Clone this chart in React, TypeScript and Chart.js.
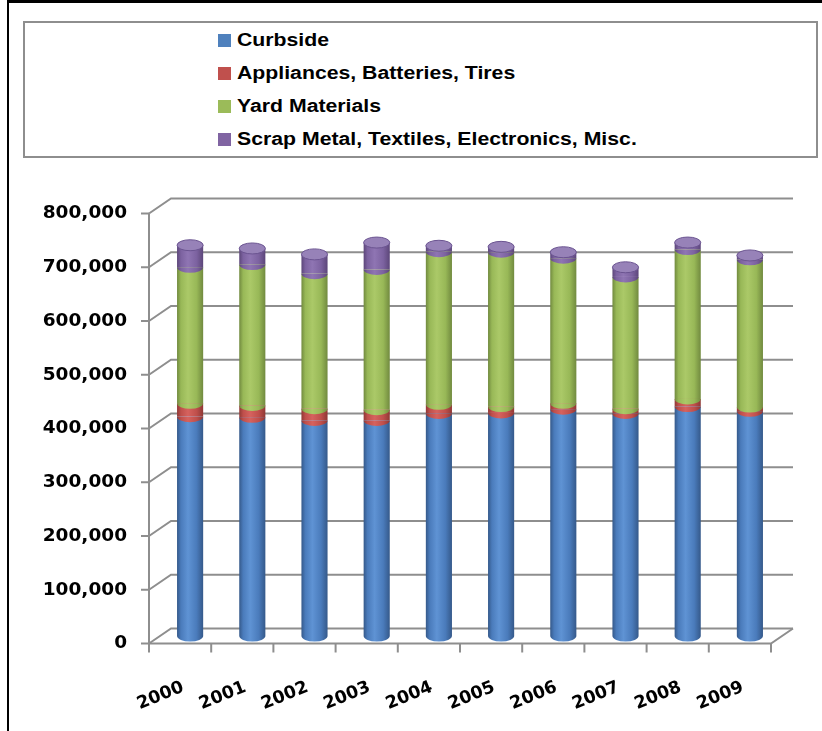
import React, { useEffect, useRef } from "react";
import { Chart, registerables } from "chart.js";

Chart.register(...registerables);

const years = ["2000", "2001", "2002", "2003", "2004", "2005", "2006", "2007", "2008", "2009"];
const curbside = [408000, 407000, 401000, 401000, 414000, 415000, 422000, 414000, 427000, 418000];
const appliances = [25000, 22000, 22000, 20000, 17000, 12000, 11000, 9000, 14000, 8000];
const yard = [253000, 262000, 251000, 261000, 284000, 287000, 270000, 245000, 278000, 274000];
const scrap = [41000, 30000, 36000, 50000, 11000, 10000, 11000, 18000, 13000, 8000];
const seriesNames = [
  "Curbside",
  "Appliances, Batteries, Tires",
  "Yard Materials",
  "Scrap Metal, Textiles, Electronics, Misc.",
];
const yTicks = [0, 100000, 200000, 300000, 400000, 500000, 600000, 700000, 800000];

// [edge, highlight, base]
const palettes: string[][] = [
  ["#35598a", "#5f93d4", "#4a7bbb"],
  ["#8f3835", "#d6625e", "#bf4f4b"],
  ["#718a3f", "#abc968", "#98b857"],
  ["#5c4679", "#8f75b3", "#7c62a0"],
];
const legendColors = ["#4f81bd", "#c0504d", "#9bbb59", "#8064a2"];
const capFill = "#9782b8";
const capEdge = "#6a5390";

const BAR_FRAC = 0.42;
const RY = 5.5;
const DXF = -10, DYF = 7.5, DXB = 12, DYB = -7.5;
const GRID = "#8e8e8e";

const makeGrad = (cols: string[]) => (ctx: any) => {
  const chart = ctx.chart;
  const xs = chart.scales && chart.scales.x;
  if (!xs || ctx.dataIndex === undefined) return cols[2];
  const cx = xs.getPixelForValue(ctx.dataIndex);
  const w = (xs.width / years.length) * BAR_FRAC;
  if (!isFinite(cx) || !isFinite(w) || w <= 0) return cols[2];
  const g = chart.ctx.createLinearGradient(cx - w / 2, 0, cx + w / 2, 0);
  g.addColorStop(0, cols[0]);
  g.addColorStop(0.15, cols[2]);
  g.addColorStop(0.42, cols[1]);
  g.addColorStop(0.75, cols[2]);
  g.addColorStop(1, cols[0]);
  return g;
};

const wallPlugin = {
  id: "wall3d",
  beforeDatasetsDraw(chart: any) {
    const { ctx, chartArea: a, scales } = chart;
    const y = scales.y;
    const xs = scales.x;
    ctx.save();
    ctx.strokeStyle = GRID;
    ctx.lineWidth = 2;
    ctx.lineCap = "butt";
    yTicks.forEach((v) => {
      const py = y.getPixelForValue(v);
      ctx.beginPath();
      ctx.moveTo(a.left + DXF, py + DYF);
      ctx.lineTo(a.left + DXB, py + DYB);
      ctx.lineTo(a.right + DXB, py + DYB);
      ctx.stroke();
      ctx.beginPath();
      ctx.moveTo(a.left + DXF - 8, py + DYF);
      ctx.lineTo(a.left + DXF, py + DYF);
      ctx.stroke();
    });
    const y0 = y.getPixelForValue(0);
    const yTop = y.getPixelForValue(yTicks[yTicks.length - 1]);
    ctx.beginPath();
    ctx.moveTo(a.left + DXF, yTop + DYF);
    ctx.lineTo(a.left + DXF, y0 + DYF);
    ctx.stroke();
    ctx.beginPath();
    ctx.moveTo(a.left + DXF, y0 + DYF);
    ctx.lineTo(a.right + DXF, y0 + DYF);
    ctx.lineTo(a.right + DXB, y0 + DYB);
    ctx.stroke();
    for (let i = 0; i <= years.length; i++) {
      const bx = xs.getPixelForValue(i - 0.5) + DXF;
      ctx.beginPath();
      ctx.moveTo(bx, y0 + DYF);
      ctx.lineTo(bx, y0 + DYF + 9);
      ctx.stroke();
    }
    ctx.restore();
  },
  afterDatasetsDraw(chart: any) {
    const ctx = chart.ctx;
    const metas = chart.data.datasets.map((_: any, i: number) => chart.getDatasetMeta(i));
    for (let j = 0; j < years.length; j++) {
      metas.forEach((m: any, di: number) => {
        const el = m.data[j];
        if (!el) return;
        const rx = el.width / 2;
        ctx.save();
        ctx.fillStyle = el.options.backgroundColor;
        ctx.beginPath();
        ctx.ellipse(el.x, el.base, rx, RY, 0, 0, Math.PI);
        ctx.closePath();
        ctx.fill();
        if (di === metas.length - 1) {
          ctx.beginPath();
          ctx.ellipse(el.x, el.y, rx, RY, 0, 0, Math.PI * 2);
          ctx.fillStyle = capFill;
          ctx.fill();
          ctx.strokeStyle = capEdge;
          ctx.lineWidth = 1;
          ctx.stroke();
        }
        ctx.restore();
      });
    }
  },
};

export default function App() {
  const ref = useRef<HTMLCanvasElement | null>(null);

  useEffect(() => {
    if (!ref.current) return;
    const series = [curbside, appliances, yard, scrap];
    const chart = new Chart(ref.current, {
      type: "bar",
      data: {
        labels: years,
        datasets: series.map((d, i) => ({
          label: seriesNames[i],
          data: d,
          backgroundColor: makeGrad(palettes[i]),
          borderWidth: 0,
          barPercentage: BAR_FRAC,
          categoryPercentage: 1,
        })),
      },
      options: {
        responsive: false,
        animation: false,
        devicePixelRatio: 1,
        layout: { padding: { left: 0, top: 206, right: 41, bottom: 0 } },
        plugins: { legend: { display: false }, tooltip: { enabled: false } },
        scales: {
          x: {
            stacked: true,
            grid: { display: false, drawTicks: false },
            border: { display: false },
            ticks: {
              autoSkip: false,
              minRotation: 22,
              maxRotation: 22,
              labelOffset: -7,
              padding: 41,
              color: "#000",
              font: { family: "DejaVu Sans", size: 17.5, weight: "bold" },
            },
            afterFit: (s: any) => {
              s.height = 95;
            },
          },
          y: {
            stacked: true,
            min: 0,
            max: 800000,
            grid: { display: false, drawTicks: false },
            border: { display: false },
            ticks: {
              stepSize: 100000,
              labelOffset: 7.5,
              padding: 32,
              color: "#000",
              font: { family: "DejaVu Sans", size: 18.5, weight: "bold" },
              callback: (v: any) => Number(v).toLocaleString("en-US"),
            },
            afterFit: (s: any) => {
              s.width = 159;
            },
          },
        },
      },
      plugins: [wallPlugin],
    });
    return () => chart.destroy();
  }, []);

  const rowTops = [40, 73, 106, 139];

  return (
    <div
      style={{
        position: "fixed",
        left: 0,
        top: 0,
        width: 822,
        height: 731,
        overflow: "hidden",
        background: "#fff",
      }}
    >
      <div
        style={{
          position: "absolute",
          left: 7,
          top: 0,
          width: 2000,
          height: 2000,
          borderLeft: "2px solid #000",
          borderTop: "3px solid #000",
        }}
      />
      <canvas
        ref={ref}
        width={822}
        height={731}
        style={{ position: "absolute", left: 0, top: 0, width: 822, height: 731 }}
      />
      <div
        style={{
          position: "absolute",
          left: 23,
          top: 21,
          width: 795,
          height: 137,
          boxSizing: "border-box",
          border: "2px solid #8e8e8e",
          background: "#fff",
        }}
      />
      {seriesNames.map((n, i) => (
        <div
          key={n}
          style={{
            position: "absolute",
            left: 218,
            top: rowTops[i] - 12,
            height: 24,
            display: "flex",
            alignItems: "center",
            fontFamily: "'Liberation Sans', Arial, sans-serif",
            fontWeight: 700,
            fontSize: 18,
            color: "#000",
            whiteSpace: "nowrap",
          }}
        >
          <span
            style={{
              display: "inline-block",
              width: 13,
              height: 13,
              background: legendColors[i],
              marginRight: 6,
            }}
          />
          <span
            style={{
              display: "inline-block",
              transform: "scaleX(1.18)",
              transformOrigin: "left center",
            }}
          >
            {n}
          </span>
        </div>
      ))}
    </div>
  );
}
